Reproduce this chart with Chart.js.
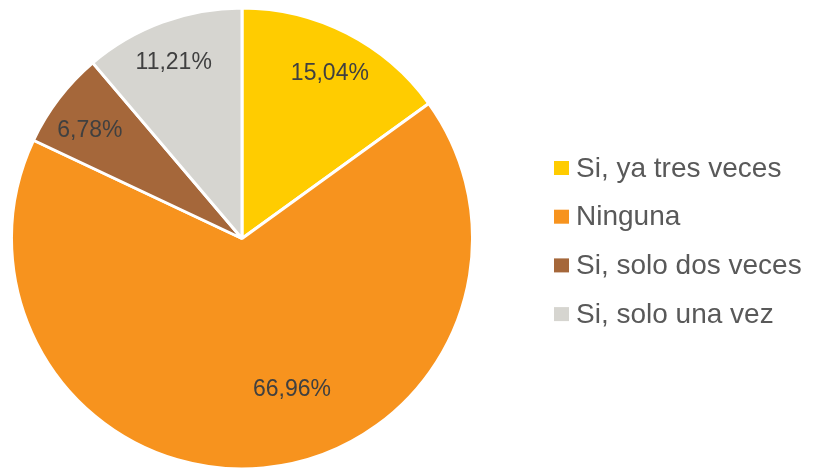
<!DOCTYPE html>
<html>
<head>
<meta charset="utf-8">
<script src="https://cdn.jsdelivr.net/npm/chart.js@4"></script>
<style>
  html, body { margin: 0; padding: 0; background: #fff; }
  #wrap { width: 813px; height: 471px; }
</style>
</head>
<body>
<div id="wrap"><canvas id="myChart" width="813" height="471"></canvas></div>
<script>
let labels1 = ['Si, ya tres veces', 'Ninguna', 'Si, solo dos veces', 'Si, solo una vez'];
let data1 = [15.04, 66.96, 6.78, 11.21];
let colors1 = ['#FFCC00', '#F7931E', '#A5673A', '#D6D5D0'];

// where each percent label sits inside its slice (fraction of radius, angle shift in degrees)
let labelRadius = [0.81, 0.69, 0.81, 0.82];
let labelShift = [1, -13, -2, -1];

const sliceLabels = {
  id: 'sliceLabels',
  afterDatasetsDraw(chart) {
    const ctx = chart.ctx;
    const meta = chart.getDatasetMeta(0);
    ctx.save();
    ctx.font = '23px "Liberation Sans", Arial, sans-serif';
    ctx.fillStyle = '#404040';
    ctx.textAlign = 'center';
    ctx.textBaseline = 'middle';
    meta.data.forEach((arc, i) => {
      const p = arc.getProps(['x', 'y', 'startAngle', 'endAngle', 'outerRadius']);
      const a = (p.startAngle + p.endAngle) / 2 + labelShift[i] * Math.PI / 180;
      const r = p.outerRadius * labelRadius[i];
      const txt = data1[i].toFixed(2).replace('.', ',') + '%';
      ctx.fillText(txt, p.x + Math.cos(a) * r, p.y + Math.sin(a) * r);
    });
    ctx.restore();
  }
};

const sideLegend = {
  id: 'sideLegend',
  afterDraw(chart) {
    const ctx = chart.ctx;
    ctx.save();
    ctx.font = '28px "Liberation Sans", Arial, sans-serif';
    ctx.textBaseline = 'middle';
    labels1.forEach((lab, i) => {
      const y = 168 + i * 48.7;
      ctx.fillStyle = colors1[i];
      ctx.fillRect(554, y - 7, 15, 14);
      ctx.fillStyle = '#595959';
      ctx.fillText(lab, 576, y + 1);
    });
    ctx.restore();
  }
};

let myChart = document.getElementById('myChart').getContext('2d');

let chart = new Chart(myChart, {
  type: 'pie',
  data: {
    labels: labels1,
    datasets: [{
      data: data1,
      backgroundColor: colors1,
      borderColor: '#ffffff',
      borderWidth: 3
    }]
  },
  options: {
    responsive: false,
    animation: false,
    layout: { padding: { left: 10, right: 339, top: 6, bottom: -2 } },
    plugins: {
      legend: { display: false },
      tooltip: { enabled: false }
    }
  },
  plugins: [sliceLabels, sideLegend]
});
</script>
</body>
</html>
